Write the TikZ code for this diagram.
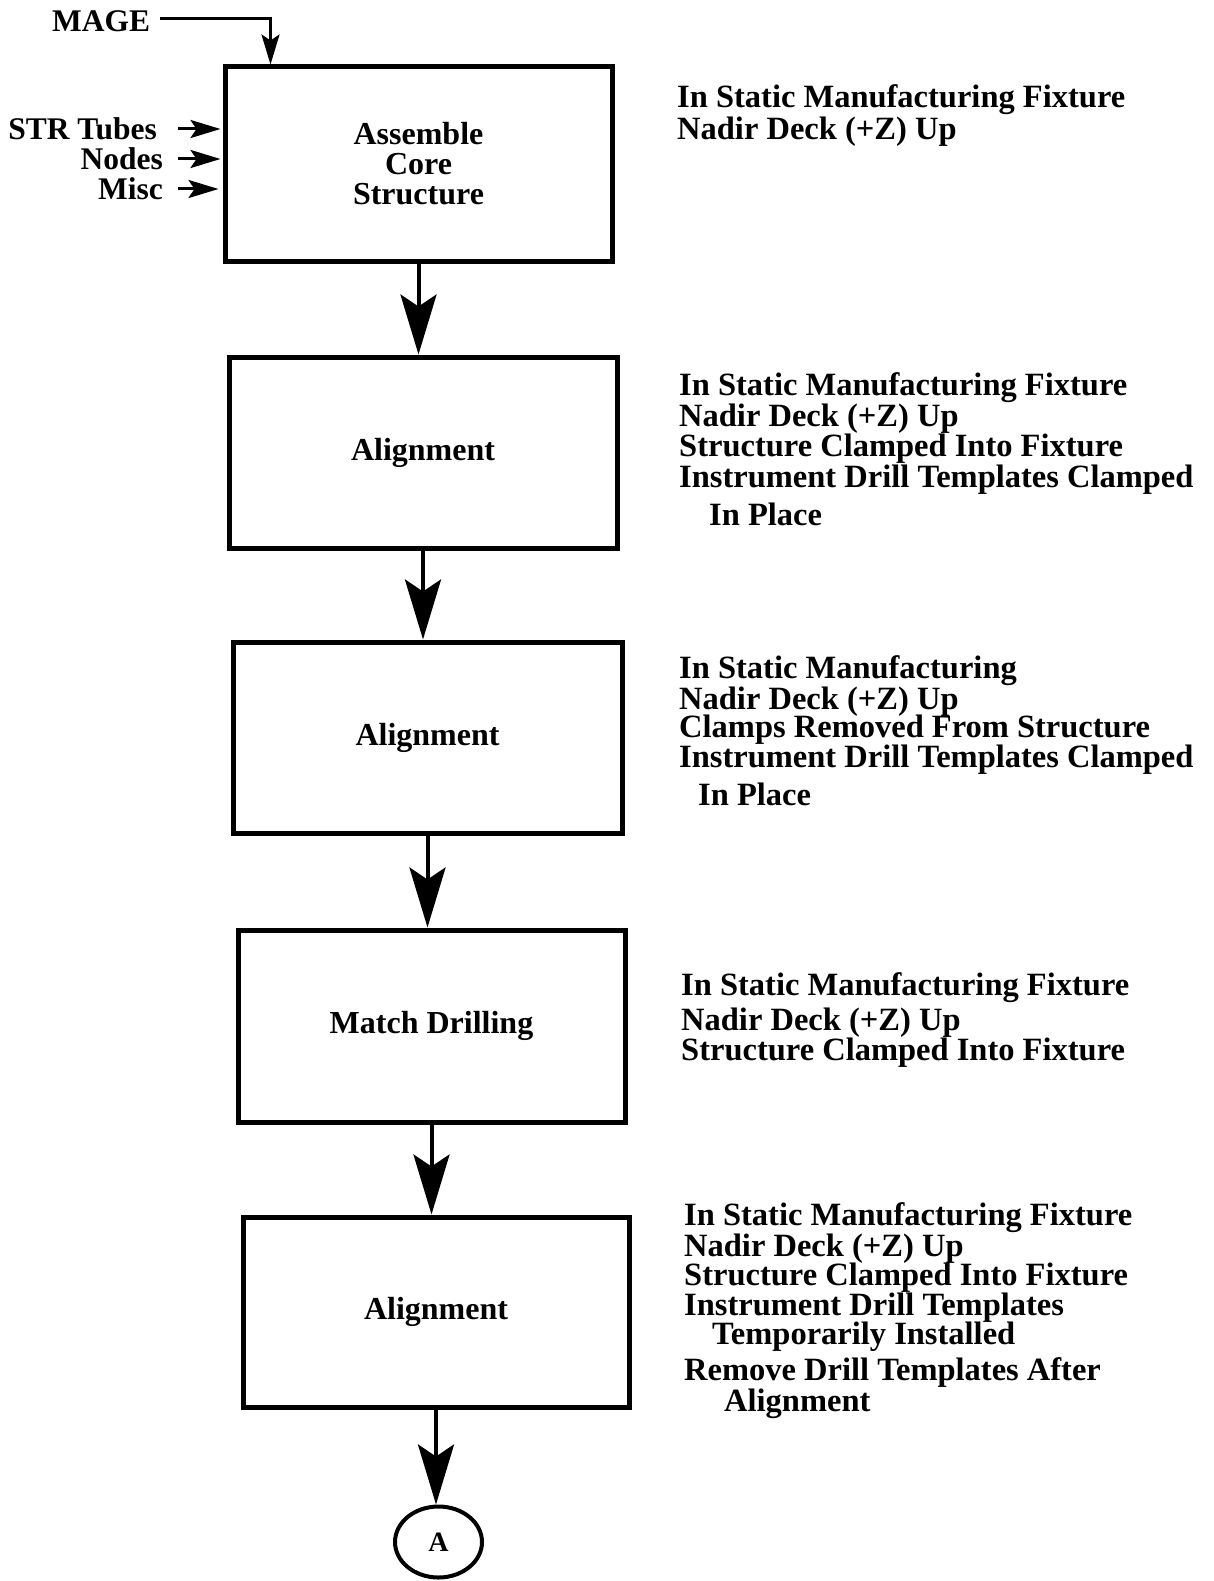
\documentclass[tikz,border=0pt]{standalone}
\usepackage{fontspec}
\setmainfont{Liberation Serif}
\usetikzlibrary{arrows.meta,shapes.geometric}
\begin{document}
\begin{tikzpicture}[x=1pt,y=-1pt,
  box/.style={draw,line width=5pt,rectangle,inner sep=0pt,align=center,
    font=\bfseries\fontsize{32}{30}\selectfont},
  note/.style={anchor=base west,inner sep=0pt,
    font=\bfseries\fontsize{32.5}{31}\selectfont},
  lbl/.style={inner sep=0pt,text height=22pt,text depth=0pt,
    font=\bfseries\fontsize{31.5}{31}\selectfont},
  flowarrow/.style={line width=4pt,-{Stealth[length=60pt,width=36pt,inset=12pt]}},
  inarrow/.style={line width=3pt,-{Stealth[length=30pt,width=18pt,inset=6pt]}},
  connector/.style={draw,ellipse,line width=4pt,inner sep=0pt,
    minimum width=87pt,minimum height=71pt,font=\bfseries\fontsize{28}{28}\selectfont}]
\useasboundingbox (0,0) rectangle (1213,1581);

% process boxes
\node[box,minimum width=387pt,minimum height=194pt] (b1) at (418.5,164) {Assemble\\Core\\Structure};
\node[box,minimum width=388pt,minimum height=191pt] (b2) at (423,452.5) {Alignment};
\node[box,minimum width=389pt,minimum height=191pt] (b3) at (427.5,737.5) {Alignment};
\node[box,minimum width=387pt,minimum height=192pt] (b4) at (431.5,1026) {Match Drilling};
\node[box,minimum width=386pt,minimum height=190pt] (b5) at (436,1312) {Alignment};
\node[connector] (ca) at (438.5,1542) {A};

% flow between steps
\draw[flowarrow] (b1.south) -- (b1.south |- b2.north);
\draw[flowarrow] (b2.south) -- (b2.south |- b3.north);
\draw[flowarrow] (b3.south) -- (b3.south |- b4.north);
\draw[flowarrow] (b4.south) -- (b4.south |- b5.north);
\draw[flowarrow] (b5.south) -- (b5.south |- ca.north);

% inputs to the first step
\node[lbl,anchor=base west] (mage) at (52,32) {MAGE};
\node[lbl,anchor=base east] (str) at (157,140) {STR Tubes};
\node[lbl,anchor=base east] (nodes) at (163,170) {Nodes};
\node[lbl,anchor=base east] (misc) at (163,200) {Misc};
\coordinate (mageend) at ([xshift=48pt]b1.north west);
\draw[inarrow] ([xshift=10pt,yshift=2pt]mage.east) -| (mageend);
\draw[inarrow] ([xshift=21pt]str.east) -- ([xshift=-2pt]str.east -| b1.west);
\draw[inarrow] ([xshift=15pt]nodes.east) -- ([xshift=-2pt]nodes.east -| b1.west);
\draw[inarrow] ([xshift=15pt]misc.east) -- ([xshift=-4pt]misc.east -| b1.west);

% conditions for each step
\node[note] (n1a) at (677,108) {In Static Manufacturing Fixture};
\node[note] (n1b) at (677,140) {Nadir Deck (+Z) Up};

\node[note] (n2a) at (679,395) {In Static Manufacturing Fixture};
\node[note] (n2b) at (679,426) {Nadir Deck (+Z) Up};
\node[note] (n2c) at (679,456) {Structure Clamped Into Fixture};
\node[note] (n2d) at (679,487) {Instrument Drill Templates Clamped};
\node[note] (n2e) at (709,525) {In Place};

\node[note] (n3a) at (679,678) {In Static Manufacturing};
\node[note] (n3b) at (679,709) {Nadir Deck (+Z) Up};
\node[note] (n3c) at (679,737) {Clamps Removed From Structure};
\node[note] (n3d) at (679,767) {Instrument Drill Templates Clamped};
\node[note] (n3e) at (698,805) {In Place};

\node[note] (n4a) at (681,995) {In Static Manufacturing Fixture};
\node[note] (n4b) at (681,1030) {Nadir Deck (+Z) Up};
\node[note] (n4c) at (681,1060) {Structure Clamped Into Fixture};

\node[note] (n5a) at (684,1225) {In Static Manufacturing Fixture};
\node[note] (n5b) at (684,1256) {Nadir Deck (+Z) Up};
\node[note] (n5c) at (684,1285) {Structure Clamped Into Fixture};
\node[note] (n5d) at (684,1315) {Instrument Drill Templates};
\node[note] (n5e) at (712,1344) {Temporarily Installed};
\node[note] (n5f) at (684,1380) {Remove Drill Templates After};
\node[note] (n5g) at (724,1411) {Alignment};
\end{tikzpicture}
\end{document}
